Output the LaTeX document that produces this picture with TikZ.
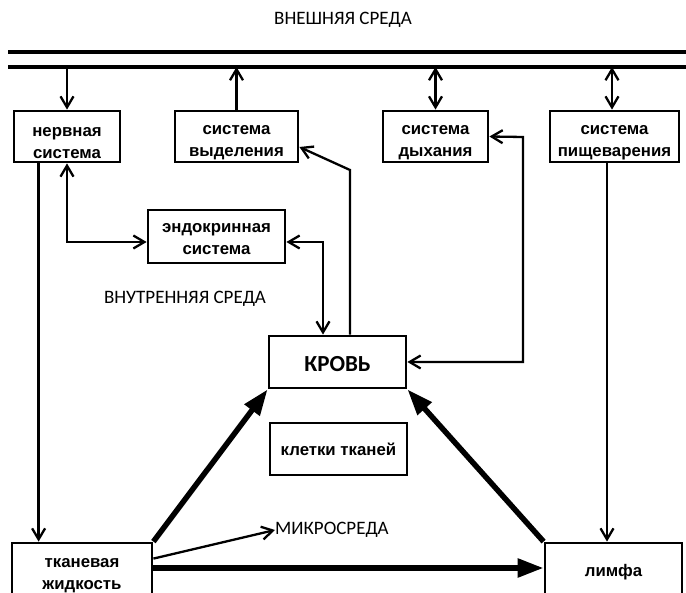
\documentclass[tikz,border=0pt]{standalone}
\usepackage{fontspec}
\setmainfont{Carlito}
\newfontfamily\boxfont{Liberation Sans}
\usetikzlibrary{arrows.meta,calc}
\tikzset{
  sysbox/.style={draw, line width=2.8pt, inner sep=0pt},
  boxtext/.style={font=\boxfont\bfseries\fontsize{16.8}{22}\selectfont, align=center, inner sep=0pt},
  conn/.style={line width=2.3pt},
  barb/.tip={Straight Barb[length=11pt,width=13pt,line width=2.3pt]},
  thick conn/.style={line width=5.5pt, -{Triangle[length=26pt,width=18pt]}},
  biglabel/.style={font=\fontsize{19}{22}\selectfont, inner sep=0pt},
  rail/.style={line width=3.8pt}
}
\begin{document}
\begin{tikzpicture}[x=1pt,y=-1pt]
\useasboundingbox (0,0) rectangle (686,593);
\fill[white] (0,0) rectangle (686,593);

% outer environment: label and double rail
\node[biglabel] (outer) at (343,20) {ВНЕШНЯЯ СРЕДА};
\coordinate (r1a) at (8,52);  \coordinate (r1b) at (690,52);
\coordinate (r2a) at (8,67);  \coordinate (r2b) at (690,67);
\draw[rail] (r1a) -- (r1b);
\draw[rail] (r2a) -- (r2b);

% organ systems
\node[sysbox, minimum width=106, minimum height=51,
  label={[boxtext, yshift=-7pt]center:{нервная\\система}}] (nerv) at (67,136.5) {};
\node[sysbox, minimum width=123, minimum height=51,
  label={[boxtext, yshift=-6.5pt]center:{система\\выделения}}] (vydel) at (236.5,136.5) {};
\node[sysbox, minimum width=105, minimum height=51,
  label={[boxtext, yshift=-6.5pt]center:{система\\дыхания}}] (dyh) at (435.5,136.5) {};
\node[sysbox, minimum width=129, minimum height=51,
  label={[boxtext, yshift=-6.5pt]center:{система\\пищеварения}}] (pisch) at (614.5,136.5) {};
\node[sysbox, minimum width=137, minimum height=53,
  label={[boxtext, yshift=-3pt]center:{эндокринная\\система}}] (endo) at (216.5,236.5) {};

% internal environment
\node[sysbox, minimum width=137, minimum height=52,
  label={[boxtext, font=\bfseries\fontsize{23}{26}\selectfont, yshift=-2pt]center:КРОВЬ}] (krov) at (337.5,362) {};
\node[sysbox, minimum width=137, minimum height=52,
  label={[boxtext]center:клетки тканей}] (kletki) at (338.5,449) {};
\node[sysbox, minimum width=140, minimum height=62,
  label={[boxtext, yshift=-2pt]center:{тканевая\\жидкость}}] (tkan) at (82,574) {};
\node[sysbox, minimum width=137, minimum height=62,
  label={[boxtext, yshift=2pt]center:лимфа}] (limfa) at (613.5,574) {};

\node[biglabel] (inner) at (185,299) {ВНУТРЕННЯЯ СРЕДА};
\node[biglabel, anchor=west] (micro) at (275,530) {МИКРОСРЕДА};

% links to the outer environment
\coordinate (t1) at (67,67);
\coordinate (t2) at (236.5,67);
\coordinate (t3) at (435.5,67);
\coordinate (t4) at (612,67);
\draw[conn, -barb] (t1) -- (nerv.north);
\draw[conn, -barb] (vydel.north) -- (t2);
\draw[conn, barb-barb] (dyh.north) -- (t3);
\draw[conn, barb-barb] ([xshift=-2.5pt]pisch.north) -- (t4);

% nervous and endocrine regulation
\draw[conn, -barb] ([xshift=26pt]nerv.south west) -- ([xshift=26pt]nerv.south west |- tkan.north);
\draw[conn, barb-barb] (nerv.south) |- ([yshift=-5.5pt]endo.west);
\draw[conn, barb-barb] ([yshift=-5.5pt]endo.east) -| ([xshift=-14.5pt]krov.north);

% blood exchange with excretion and respiration
\coordinate (b1) at (350,170);
\draw[conn, -barb] ([xshift=12.5pt]krov.north) -- (b1) -- ([yshift=-10.5pt]vydel.east);
\coordinate (b2) at (523,137);
\draw[conn, barb-barb] (dyh.east) -- (b2) |- (krov.east);

% digestion to lymph
\draw[conn, -barb] ([xshift=-7.5pt]pisch.south) -- ([xshift=-7.5pt]pisch.south |- limfa.north);

% fluid circulation
\draw[thick conn] (tkan.north east) -- (krov.south west);
\draw[thick conn] (limfa.north west) -- (krov.south east);
\draw[thick conn] ([yshift=6pt]tkan.east) -- ([yshift=6pt]limfa.west);
\draw[conn, -barb] ([yshift=-17pt]tkan.north east) -- (micro.west);
\end{tikzpicture}
\end{document}
